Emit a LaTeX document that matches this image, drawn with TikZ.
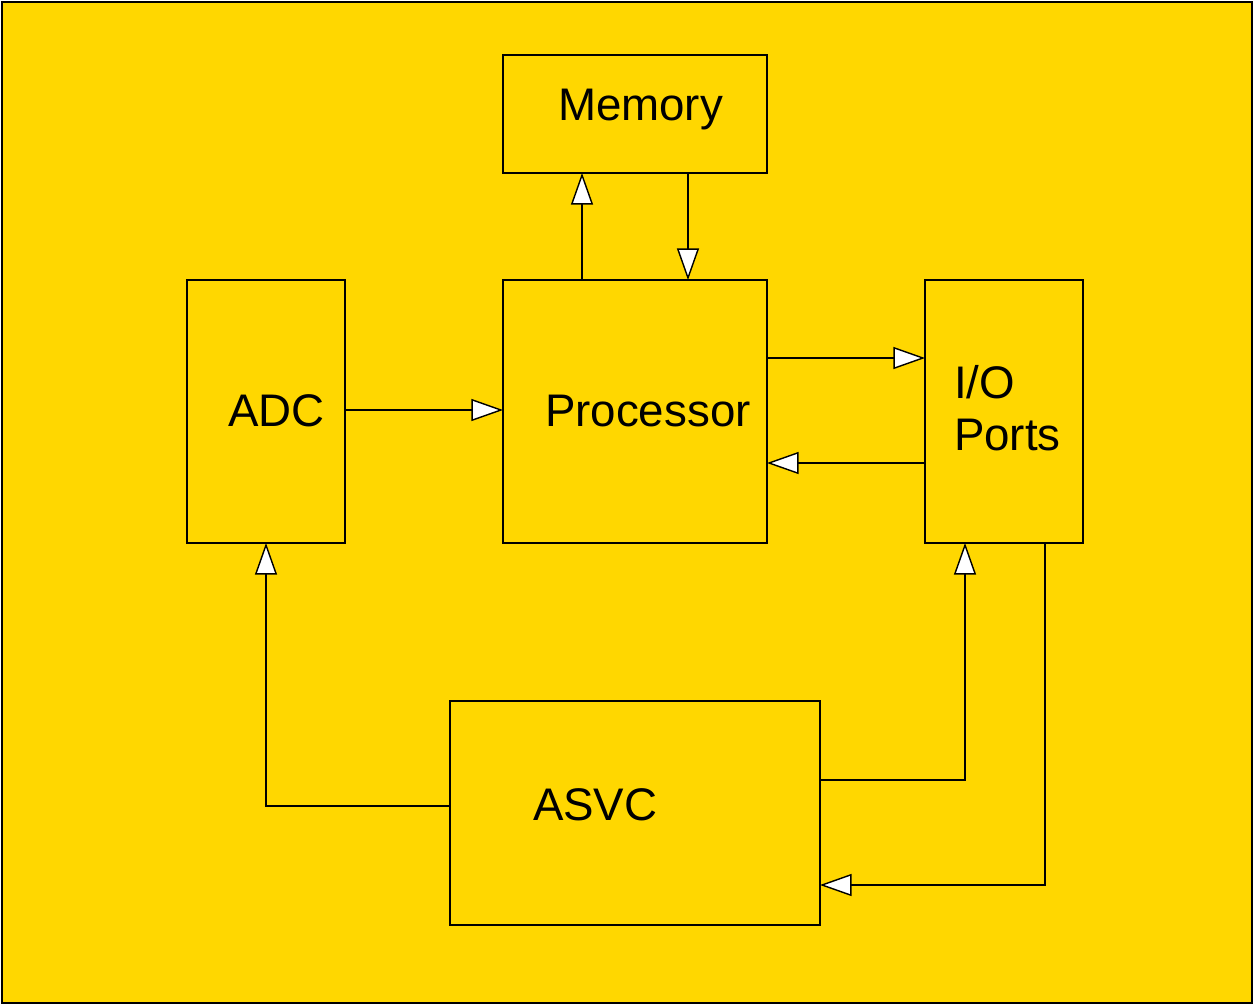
\documentclass[tikz,border=0pt]{standalone}
\usepackage{fontspec}
\setmainfont{Liberation Sans}
\usetikzlibrary{arrows.meta}
\definecolor{bggold}{HTML}{FFD700}
\tikzset{
  blk/.style={draw=black, line width=0.8pt, inner sep=0pt, outer sep=0pt},
  lbl/.style={inner sep=0pt, outer sep=0pt, anchor=base west, font=\fontsize{26}{30}\selectfont},
  arr/.style={draw=black, line width=0.8pt, -{Triangle[open, fill=white, length=18pt, width=12.5pt]}}
}
\begin{document}
\begin{tikzpicture}[x=0.02cm, y=-0.02cm]
\useasboundingbox (0,0) rectangle (1254,1005);
\draw[fill=bggold, draw=black, line width=0.8pt] (2,2) rectangle (1252,1003);

\node[blk, minimum width=5.28cm, minimum height=2.36cm] (mem) at (635,114) {};
\node[blk, minimum width=3.16cm, minimum height=5.26cm] (adc) at (266,411.5) {};
\node[blk, minimum width=5.28cm, minimum height=5.26cm] (proc) at (635,411.5) {};
\node[blk, minimum width=3.16cm, minimum height=5.26cm] (io) at (1004,411.5) {};
\node[blk, minimum width=7.4cm, minimum height=4.48cm] (asvc) at (635,813) {};

\node[lbl] (tmem) at (558,120) {Memory};
\node[lbl] (tadc) at (228,426) {ADC};
\node[lbl] (tproc) at (545,426) {Processor};
\node[lbl] (tio1) at (954,398) {I/O};
\node[lbl] (tio2) at (954,450) {Ports};
\node[lbl] (tasvc) at (533,820) {ASVC};

\draw[arr] ([xshift=-1.06cm]proc.north) -- ([xshift=-1.06cm]mem.south);
\draw[arr] ([xshift=1.06cm]mem.south) -- ([xshift=1.06cm]proc.north);
\draw[arr] ([yshift=1.07cm]proc.east) -- ([yshift=1.07cm]io.west);
\draw[arr] ([yshift=-1.03cm]io.west) -- ([yshift=-1.03cm]proc.east);
\draw[arr] ([yshift=0.03cm]adc.east) -- ([yshift=0.03cm]proc.west);
\draw[arr] ([yshift=0.14cm]asvc.west) -| (adc.south);
\draw[arr] ([yshift=0.66cm]asvc.east) -| ([xshift=-0.78cm]io.south);
\draw[arr] ([xshift=0.82cm]io.south) |- ([yshift=-1.44cm]asvc.east);
\end{tikzpicture}
\end{document}
